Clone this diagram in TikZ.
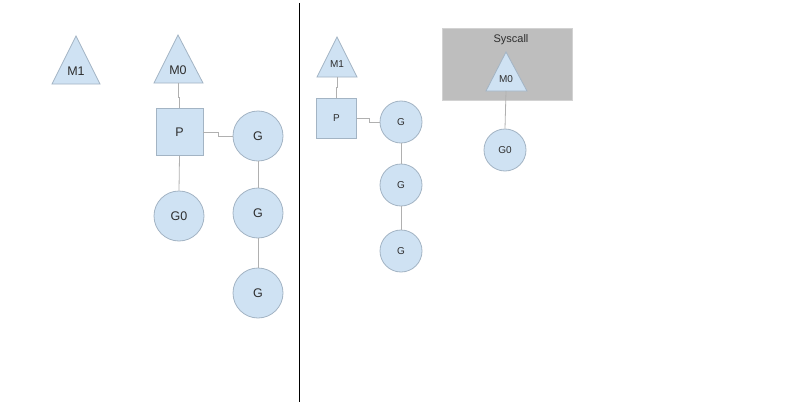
\documentclass[tikz,border=0pt]{standalone}
\usepackage{fontspec}
\setmainfont{Liberation Sans}
\definecolor{fillb}{HTML}{CFE2F3}
\definecolor{edgeb}{HTML}{A3B4C4}
\definecolor{linec}{HTML}{B0B0B0}
\definecolor{txt}{HTML}{2E2E2E}
\definecolor{boxg}{HTML}{BEBEBE}
\definecolor{boxe}{HTML}{D2D2D2}
\begin{document}
\begin{tikzpicture}[x=1pt,y=-1pt,
  shp/.style={fill=fillb,draw=edgeb,line width=0.8pt},
  lbl/.style={text=txt,inner sep=0pt},
  bigfont/.style={font=\fontsize{12.5}{13}\selectfont},
  smallfont/.style={font=\fontsize{10}{11}\selectfont},
  gbig/.style={shp,circle,minimum size=50pt,inner sep=0pt,text=txt,bigfont},
  gsmall/.style={shp,circle,minimum size=42pt,inner sep=0pt,text=txt,smallfont},
  pbig/.style={shp,rectangle,minimum size=47pt,inner sep=0pt,text=txt,bigfont},
  psmall/.style={shp,rectangle,minimum size=40pt,inner sep=0pt,text=txt,smallfont},
  conn/.style={draw=linec,line width=0.8pt},
  sysbox/.style={fill=boxg,draw=boxe,line width=0.8pt,minimum width=130pt,minimum height=72pt,inner sep=0pt}]
\useasboundingbox (0,0) rectangle (800,404);
\fill[white] (0,0) rectangle (800,404);
% divider
\coordinate (dtop) at (299,3);
\coordinate (dbot) at (299,402);
\draw[black,line width=0.9pt] (dtop) -- (dbot);

% ===== left =====
\draw[shp] (76,36) -- (100,84) -- (52,84) -- cycle;
\node[lbl,bigfont] (m1l) at (76,71) {M1};
\draw[shp] (178,35) -- (203,83) -- (154,83) -- cycle;
\node[lbl,bigfont] (m0l) at (178,70) {M0};
\coordinate (m0lb) at (178,83);
\node[pbig] (pl) at (179.5,132) {P};
\node[gbig] (g0l) at (179,216) {G0};
\node[gbig] (gl1) at (258,136) {G};
\node[gbig] (gl2) at (258,213) {G};
\node[gbig] (gl3) at (258,293) {G};
\draw[conn] (m0lb) -- ++(0,14) -| (pl.north);
\draw[conn] (pl.east) -- ++(15,0) |- (gl1.west);
\draw[conn] (pl.south) -- (g0l.north);
\draw[conn] (gl1.south) -- (gl2.north);
\draw[conn] (gl2.south) -- (gl3.north);

% ===== right =====
\draw[shp] (337,37) -- (357,77) -- (317,77) -- cycle;
\node[lbl,smallfont] (m1r) at (337,64) {M1};
\coordinate (m1rb) at (337,77);
\node[psmall] (pr) at (336.5,118) {P};
\node[gsmall] (gr1) at (401,122) {G};
\node[gsmall] (gr2) at (401,185) {G};
\node[gsmall] (gr3) at (401,251) {G};
\draw[conn] (m1rb) -- ++(0,10) -| (pr.north);
\draw[conn] (pr.east) -- ++(12,0) |- (gr1.west);
\draw[conn] (gr1.south) -- (gr2.north);
\draw[conn] (gr2.south) -- (gr3.north);

\node[sysbox] (sys) at (507,64) {};
\node[lbl,font=\fontsize{11}{12}\selectfont] (systxt) at (511,40) {Syscall};
\draw[shp] (506,52) -- (527,91) -- (486,91) -- cycle;
\node[lbl,smallfont] (m0r) at (506,79) {M0};
\coordinate (m0rb) at (506,91);
\node[gsmall] (g0r) at (505,150) {G0};
\draw[conn] (m0rb) -- (g0r.north);
\end{tikzpicture}
\end{document}
